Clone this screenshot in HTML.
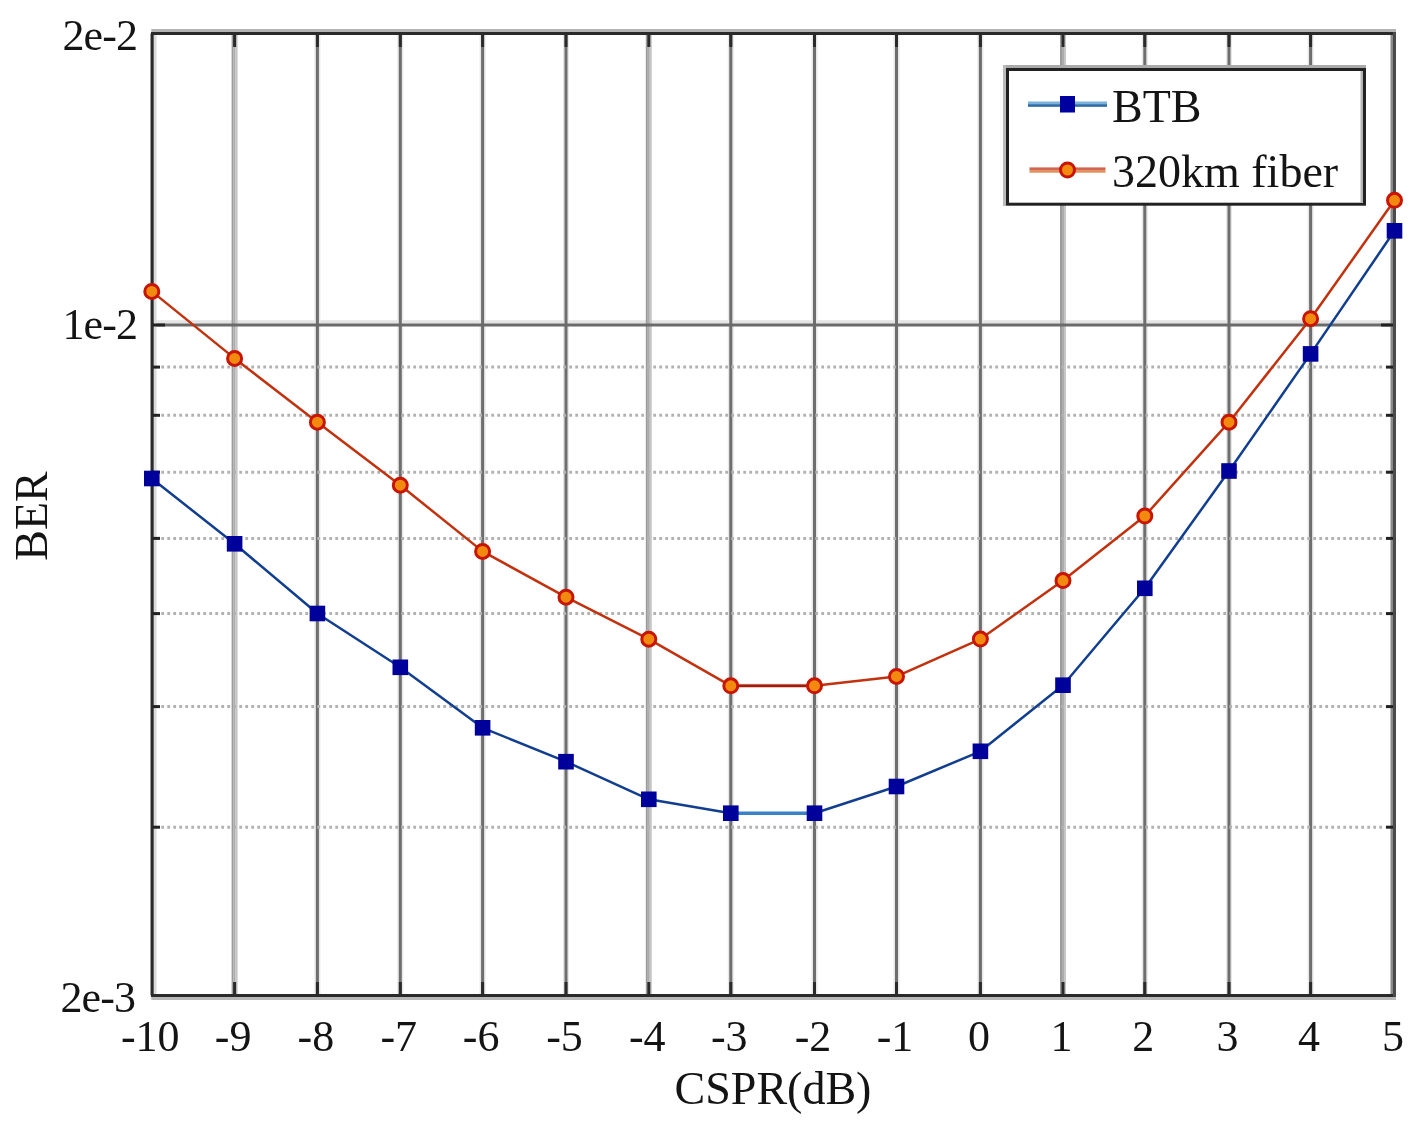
<!DOCTYPE html>
<html><head><meta charset="utf-8"><style>
html,body{margin:0;padding:0;background:#fff;width:1426px;height:1126px;overflow:hidden}
svg{display:block;filter:blur(0.55px)}
text{font-family:"Liberation Serif",serif}
</style></head><body>
<svg width="1426" height="1126" viewBox="0 0 1426 1126">
<rect x="0" y="0" width="1426" height="1126" fill="#fff"/>
<rect x="152.3" y="320.20" width="1242.2" height="3.4" fill="#e4e4e4"/>
<rect x="231.60" y="33.5" width="2" height="962.0" fill="#9c9c9c"/>
<rect x="233.60" y="33.5" width="2" height="962.0" fill="#acacac"/>
<rect x="235.60" y="33.5" width="2" height="962.0" fill="#c6c6c6"/>
<rect x="314.40" y="33.5" width="6" height="962.0" fill="#e8e8e8"/>
<rect x="315.90" y="33.5" width="3" height="962.0" fill="#6e6e6e"/>
<rect x="397.30" y="33.5" width="6" height="962.0" fill="#e8e8e8"/>
<rect x="398.80" y="33.5" width="3" height="962.0" fill="#6e6e6e"/>
<rect x="479.60" y="33.5" width="6" height="962.0" fill="#e8e8e8"/>
<rect x="481.10" y="33.5" width="3" height="962.0" fill="#6e6e6e"/>
<rect x="563.00" y="33.5" width="6" height="962.0" fill="#e8e8e8"/>
<rect x="564.50" y="33.5" width="3" height="962.0" fill="#6e6e6e"/>
<rect x="645.80" y="33.5" width="2" height="962.0" fill="#9c9c9c"/>
<rect x="647.80" y="33.5" width="2" height="962.0" fill="#acacac"/>
<rect x="649.80" y="33.5" width="2" height="962.0" fill="#c6c6c6"/>
<rect x="727.80" y="33.5" width="6" height="962.0" fill="#e8e8e8"/>
<rect x="729.30" y="33.5" width="3" height="962.0" fill="#6e6e6e"/>
<rect x="811.50" y="33.5" width="6" height="962.0" fill="#e8e8e8"/>
<rect x="813.00" y="33.5" width="3" height="962.0" fill="#6e6e6e"/>
<rect x="893.50" y="33.5" width="6" height="962.0" fill="#e8e8e8"/>
<rect x="895.00" y="33.5" width="3" height="962.0" fill="#6e6e6e"/>
<rect x="977.40" y="33.5" width="6" height="962.0" fill="#e8e8e8"/>
<rect x="978.90" y="33.5" width="3" height="962.0" fill="#6e6e6e"/>
<rect x="1060.00" y="33.5" width="2" height="962.0" fill="#9c9c9c"/>
<rect x="1062.00" y="33.5" width="2" height="962.0" fill="#acacac"/>
<rect x="1064.00" y="33.5" width="2" height="962.0" fill="#c6c6c6"/>
<rect x="1141.80" y="33.5" width="6" height="962.0" fill="#e8e8e8"/>
<rect x="1143.30" y="33.5" width="3" height="962.0" fill="#6e6e6e"/>
<rect x="1226.00" y="33.5" width="6" height="962.0" fill="#e8e8e8"/>
<rect x="1227.50" y="33.5" width="3" height="962.0" fill="#6e6e6e"/>
<rect x="1307.60" y="33.5" width="6" height="962.0" fill="#e8e8e8"/>
<rect x="1309.10" y="33.5" width="3" height="962.0" fill="#6e6e6e"/>
<rect x="152.3" y="323.50" width="1242.2" height="3" fill="#6a6a6a"/>
<line x1="161.3" y1="367.10" x2="1385.5" y2="367.10" stroke="#b2b2b2" stroke-width="3" stroke-dasharray="2.8 3.2"/>
<line x1="161.3" y1="415.30" x2="1385.5" y2="415.30" stroke="#b2b2b2" stroke-width="3" stroke-dasharray="2.8 3.2"/>
<line x1="161.3" y1="472.20" x2="1385.5" y2="472.20" stroke="#b2b2b2" stroke-width="3" stroke-dasharray="2.8 3.2"/>
<line x1="161.3" y1="538.40" x2="1385.5" y2="538.40" stroke="#b2b2b2" stroke-width="3" stroke-dasharray="2.8 3.2"/>
<line x1="161.3" y1="613.60" x2="1385.5" y2="613.60" stroke="#b2b2b2" stroke-width="3" stroke-dasharray="2.8 3.2"/>
<line x1="161.3" y1="706.60" x2="1385.5" y2="706.60" stroke="#b2b2b2" stroke-width="3" stroke-dasharray="2.8 3.2"/>
<line x1="161.3" y1="827.20" x2="1385.5" y2="827.20" stroke="#b2b2b2" stroke-width="3" stroke-dasharray="2.8 3.2"/>
<rect x="151.3" y="29" width="1244.7" height="3" fill="#b4b4b4"/>
<rect x="151.3" y="997" width="1244.7" height="3" fill="#b8b8b8"/>
<rect x="150" y="33.5" width="1.2" height="962.0" fill="#9a9a9a"/>
<rect x="153.7" y="33.5" width="2.8" height="962.0" fill="#dadada"/>
<rect x="1390.5" y="33.5" width="2.6" height="962.0" fill="#8a8a8a"/>
<rect x="151" y="32" width="1245" height="3" fill="#2a2a2a"/>
<rect x="151" y="994" width="1245" height="3" fill="#2a2a2a"/>
<rect x="151" y="32" width="2.7" height="965" fill="#2a2a2a"/>
<rect x="1393" y="32" width="3" height="965" fill="#4a4a4a"/>
<rect x="233.10" y="35" width="3" height="12" fill="#2a2a2a"/>
<rect x="233.10" y="982" width="3" height="12" fill="#2a2a2a"/>
<rect x="315.90" y="35" width="3" height="12" fill="#2a2a2a"/>
<rect x="315.90" y="982" width="3" height="12" fill="#2a2a2a"/>
<rect x="398.80" y="35" width="3" height="12" fill="#2a2a2a"/>
<rect x="398.80" y="982" width="3" height="12" fill="#2a2a2a"/>
<rect x="481.10" y="35" width="3" height="12" fill="#2a2a2a"/>
<rect x="481.10" y="982" width="3" height="12" fill="#2a2a2a"/>
<rect x="564.50" y="35" width="3" height="12" fill="#2a2a2a"/>
<rect x="564.50" y="982" width="3" height="12" fill="#2a2a2a"/>
<rect x="647.30" y="35" width="3" height="12" fill="#2a2a2a"/>
<rect x="647.30" y="982" width="3" height="12" fill="#2a2a2a"/>
<rect x="729.30" y="35" width="3" height="12" fill="#2a2a2a"/>
<rect x="729.30" y="982" width="3" height="12" fill="#2a2a2a"/>
<rect x="813.00" y="35" width="3" height="12" fill="#2a2a2a"/>
<rect x="813.00" y="982" width="3" height="12" fill="#2a2a2a"/>
<rect x="895.00" y="35" width="3" height="12" fill="#2a2a2a"/>
<rect x="895.00" y="982" width="3" height="12" fill="#2a2a2a"/>
<rect x="978.90" y="35" width="3" height="12" fill="#2a2a2a"/>
<rect x="978.90" y="982" width="3" height="12" fill="#2a2a2a"/>
<rect x="1061.50" y="35" width="3" height="12" fill="#2a2a2a"/>
<rect x="1061.50" y="982" width="3" height="12" fill="#2a2a2a"/>
<rect x="1143.30" y="35" width="3" height="12" fill="#2a2a2a"/>
<rect x="1143.30" y="982" width="3" height="12" fill="#2a2a2a"/>
<rect x="1227.50" y="35" width="3" height="12" fill="#2a2a2a"/>
<rect x="1227.50" y="982" width="3" height="12" fill="#2a2a2a"/>
<rect x="1309.10" y="35" width="3" height="12" fill="#2a2a2a"/>
<rect x="1309.10" y="982" width="3" height="12" fill="#2a2a2a"/>
<rect x="153" y="323.50" width="12" height="3" fill="#222"/>
<rect x="1381" y="323.50" width="12" height="3" fill="#222"/>
<rect x="153" y="365.60" width="7" height="3" fill="#222"/>
<rect x="1386" y="365.60" width="7" height="3" fill="#222"/>
<rect x="153" y="413.80" width="7" height="3" fill="#222"/>
<rect x="1386" y="413.80" width="7" height="3" fill="#222"/>
<rect x="153" y="470.70" width="7" height="3" fill="#222"/>
<rect x="1386" y="470.70" width="7" height="3" fill="#222"/>
<rect x="153" y="536.90" width="7" height="3" fill="#222"/>
<rect x="1386" y="536.90" width="7" height="3" fill="#222"/>
<rect x="153" y="612.10" width="7" height="3" fill="#222"/>
<rect x="1386" y="612.10" width="7" height="3" fill="#222"/>
<rect x="153" y="705.10" width="7" height="3" fill="#222"/>
<rect x="1386" y="705.10" width="7" height="3" fill="#222"/>
<rect x="153" y="825.70" width="7" height="3" fill="#222"/>
<rect x="1386" y="825.70" width="7" height="3" fill="#222"/>
<polyline points="151.80,291.40 234.60,358.40 317.40,422.20 400.30,485.20 482.60,551.40 566.00,597.20 648.80,639.20 730.80,685.80 814.50,685.80 896.50,676.40 980.40,639.10 1063.00,580.60 1144.80,516.00 1229.00,422.20 1310.60,318.70 1394.50,200.30" fill="none" stroke="#c2320e" stroke-width="2.5" stroke-linejoin="round"/>
<polyline points="151.80,478.50 234.60,543.80 317.40,613.50 400.30,667.30 482.60,727.80 566.00,761.70 648.80,799.30 730.80,813.20 814.50,813.20 896.50,786.50 980.40,751.30 1063.00,685.20 1144.80,588.30 1229.00,471.00 1310.60,353.90 1394.50,230.80" fill="none" stroke="#123e90" stroke-width="2.5" stroke-linejoin="round"/>
<line x1="730.80" y1="813.20" x2="814.50" y2="813.20" stroke="#3a82c8" stroke-width="3.6"/>
<line x1="730.80" y1="685.80" x2="814.50" y2="685.80" stroke="#e8b0a0" stroke-width="4"/>
<line x1="730.80" y1="685.80" x2="814.50" y2="685.80" stroke="#a01c0c" stroke-width="2.4"/>
<circle cx="151.80" cy="291.40" r="7" fill="#f28a10" stroke="#c81400" stroke-width="3"/>
<circle cx="234.60" cy="358.40" r="7" fill="#f28a10" stroke="#c81400" stroke-width="3"/>
<circle cx="317.40" cy="422.20" r="7" fill="#f28a10" stroke="#c81400" stroke-width="3"/>
<circle cx="400.30" cy="485.20" r="7" fill="#f28a10" stroke="#c81400" stroke-width="3"/>
<circle cx="482.60" cy="551.40" r="7" fill="#f28a10" stroke="#c81400" stroke-width="3"/>
<circle cx="566.00" cy="597.20" r="7" fill="#f28a10" stroke="#c81400" stroke-width="3"/>
<circle cx="648.80" cy="639.20" r="7" fill="#f28a10" stroke="#c81400" stroke-width="3"/>
<circle cx="730.80" cy="685.80" r="7" fill="#f28a10" stroke="#c81400" stroke-width="3"/>
<circle cx="814.50" cy="685.80" r="7" fill="#f28a10" stroke="#c81400" stroke-width="3"/>
<circle cx="896.50" cy="676.40" r="7" fill="#f28a10" stroke="#c81400" stroke-width="3"/>
<circle cx="980.40" cy="639.10" r="7" fill="#f28a10" stroke="#c81400" stroke-width="3"/>
<circle cx="1063.00" cy="580.60" r="7" fill="#f28a10" stroke="#c81400" stroke-width="3"/>
<circle cx="1144.80" cy="516.00" r="7" fill="#f28a10" stroke="#c81400" stroke-width="3"/>
<circle cx="1229.00" cy="422.20" r="7" fill="#f28a10" stroke="#c81400" stroke-width="3"/>
<circle cx="1310.60" cy="318.70" r="7" fill="#f28a10" stroke="#c81400" stroke-width="3"/>
<circle cx="1394.50" cy="200.30" r="7" fill="#f28a10" stroke="#c81400" stroke-width="3"/>
<rect x="144.00" y="470.70" width="15.6" height="15.6" fill="#00009a"/>
<rect x="226.80" y="536.00" width="15.6" height="15.6" fill="#00009a"/>
<rect x="309.60" y="605.70" width="15.6" height="15.6" fill="#00009a"/>
<rect x="392.50" y="659.50" width="15.6" height="15.6" fill="#00009a"/>
<rect x="474.80" y="720.00" width="15.6" height="15.6" fill="#00009a"/>
<rect x="558.20" y="753.90" width="15.6" height="15.6" fill="#00009a"/>
<rect x="641.00" y="791.50" width="15.6" height="15.6" fill="#00009a"/>
<rect x="723.00" y="805.40" width="15.6" height="15.6" fill="#00009a"/>
<rect x="806.70" y="805.40" width="15.6" height="15.6" fill="#00009a"/>
<rect x="888.70" y="778.70" width="15.6" height="15.6" fill="#00009a"/>
<rect x="972.60" y="743.50" width="15.6" height="15.6" fill="#00009a"/>
<rect x="1055.20" y="677.40" width="15.6" height="15.6" fill="#00009a"/>
<rect x="1137.00" y="580.50" width="15.6" height="15.6" fill="#00009a"/>
<rect x="1221.20" y="463.20" width="15.6" height="15.6" fill="#00009a"/>
<rect x="1302.80" y="346.10" width="15.6" height="15.6" fill="#00009a"/>
<rect x="1386.70" y="223.00" width="15.6" height="15.6" fill="#00009a"/>
<rect x="1003" y="65" width="363" height="3" fill="#aaa"/>
<rect x="1003" y="65" width="3" height="141" fill="#bbb"/>
<rect x="1007.5" y="69.5" width="357.0" height="134.7" fill="#fff" stroke="#222" stroke-width="3"/>
<rect x="1360.5" y="71" width="2.5" height="131.7" fill="#b4b4b4"/>
<rect x="1028" y="101.5" width="79" height="2.7" fill="#7ab2dc"/>
<rect x="1028" y="104.2" width="79" height="2.6" fill="#2a6aa4"/>
<rect x="1060" y="96" width="15" height="16.5" fill="#0000a0"/>
<rect x="1029.5" y="167.4" width="76" height="2.7" fill="#cf6650"/>
<rect x="1029.5" y="170.1" width="76" height="2.6" fill="#e58c5c"/>
<circle cx="1067.5" cy="170" r="7" fill="#f28a10" stroke="#c81400" stroke-width="3"/>
<text x="1112" y="122" font-size="46" fill="#141414">BTB</text>
<text x="1112" y="187" font-size="46" fill="#141414">320km fiber</text>
<text x="150.30" y="1050.5" font-size="44" text-anchor="middle" fill="#141414">-10</text>
<text x="233.10" y="1050.5" font-size="44" text-anchor="middle" fill="#141414">-9</text>
<text x="315.90" y="1050.5" font-size="44" text-anchor="middle" fill="#141414">-8</text>
<text x="398.80" y="1050.5" font-size="44" text-anchor="middle" fill="#141414">-7</text>
<text x="481.10" y="1050.5" font-size="44" text-anchor="middle" fill="#141414">-6</text>
<text x="564.50" y="1050.5" font-size="44" text-anchor="middle" fill="#141414">-5</text>
<text x="647.30" y="1050.5" font-size="44" text-anchor="middle" fill="#141414">-4</text>
<text x="729.30" y="1050.5" font-size="44" text-anchor="middle" fill="#141414">-3</text>
<text x="813.00" y="1050.5" font-size="44" text-anchor="middle" fill="#141414">-2</text>
<text x="895.00" y="1050.5" font-size="44" text-anchor="middle" fill="#141414">-1</text>
<text x="978.90" y="1050.5" font-size="44" text-anchor="middle" fill="#141414">0</text>
<text x="1061.50" y="1050.5" font-size="44" text-anchor="middle" fill="#141414">1</text>
<text x="1143.30" y="1050.5" font-size="44" text-anchor="middle" fill="#141414">2</text>
<text x="1227.50" y="1050.5" font-size="44" text-anchor="middle" fill="#141414">3</text>
<text x="1309.10" y="1050.5" font-size="44" text-anchor="middle" fill="#141414">4</text>
<text x="1393.00" y="1050.5" font-size="44" text-anchor="middle" fill="#141414">5</text>
<text x="137" y="50" font-size="44" text-anchor="end" letter-spacing="-0.9" fill="#141414">2e-2</text>
<text x="137" y="339" font-size="44" text-anchor="end" letter-spacing="-0.9" fill="#141414">1e-2</text>
<text x="135" y="1012" font-size="44" text-anchor="end" letter-spacing="-0.9" fill="#141414">2e-3</text>
<text x="773" y="1104" font-size="46" text-anchor="middle" fill="#141414">CSPR(dB)</text>
<text transform="translate(46.5,516) rotate(-90)" x="0" y="0" font-size="46" text-anchor="middle" fill="#141414">BER</text>
</svg>
</body></html>
